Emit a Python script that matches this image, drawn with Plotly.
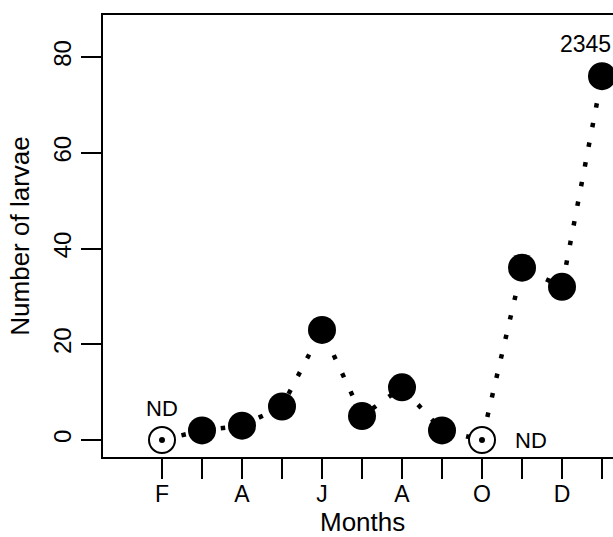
import plotly.graph_objects as go

months = ["F", "M", "A", "M", "J", "J", "A", "S", "O", "N", "D", "J"]
tick_labels = ["F", "", "A", "", "J", "", "A", "", "O", "", "D", ""]
larvae = [0, 2, 3, 7, 23, 5, 11, 2, 0, 36, 32, 76]
not_determined = [True, False, False, False, False, False, False, False, True, False, False, False]
peak_label = "2345"
x_title = "Months"
y_title = "Number of larvae"

idx = list(range(1, len(months) + 1))
fill_x = [i for i, nd in zip(idx, not_determined) if not nd]
fill_y = [v for v, nd in zip(larvae, not_determined) if not nd]
nd_x = [i for i, nd in zip(idx, not_determined) if nd]
nd_y = [v for v, nd in zip(larvae, not_determined) if nd]

FONT = "Liberation Sans, Arial, Helvetica, sans-serif"

fig = go.Figure()
fig.add_trace(go.Scatter(
    x=idx, y=larvae, mode="lines",
    line=dict(color="black", width=4.5, dash="4.5px,15.5px"),
    hoverinfo="skip", showlegend=False, cliponaxis=True))
fig.add_trace(go.Scatter(
    x=fill_x, y=fill_y, mode="markers",
    marker=dict(symbol="circle", size=28, color="black", line=dict(width=0)),
    showlegend=False))
fig.add_trace(go.Scatter(
    x=nd_x, y=nd_y, mode="markers",
    marker=dict(symbol="circle", size=26, color="white", line=dict(width=2, color="black")),
    showlegend=False))
fig.add_trace(go.Scatter(
    x=nd_x, y=nd_y, mode="markers",
    marker=dict(symbol="circle", size=6, color="black", line=dict(width=0)),
    showlegend=False))

fig.add_annotation(x=nd_x[0], y=nd_y[0], text="ND", showarrow=False, yshift=32,
                   font=dict(family=FONT, size=22, color="black"))
fig.add_annotation(x=nd_x[1], y=nd_y[1], text="ND", showarrow=False, xshift=49,
                   font=dict(family=FONT, size=22, color="black"))
fig.add_annotation(x=idx[-1], y=larvae[-1], text=peak_label, showarrow=False,
                   xshift=-17, yshift=32,
                   font=dict(family=FONT, size=23, color="black"))
# x-axis title placed under the tick labels, centred on the (clipped) plot box
fig.add_annotation(x=(idx[0] + idx[-1]) / 2 - 0.5, xref="x", y=0, yref="paper",
                   yanchor="middle", yshift=-65, text=x_title, showarrow=False,
                   font=dict(family=FONT, size=26, color="black"))

fig.update_layout(
    width=613, height=537,
    margin=dict(l=103, r=0, t=15, b=80),
    plot_bgcolor="white", paper_bgcolor="white",
    font=dict(family=FONT, color="black"),
    showlegend=False,
)
fig.update_xaxes(
    range=[-0.475, 12.275], tickmode="array", tickvals=idx, ticktext=tick_labels,
    ticks="outside", ticklen=20, tickwidth=2, tickcolor="black",
    ticklabelstandoff=-5,
    showline=True, linewidth=2, linecolor="black", mirror=True,
    showgrid=False, zeroline=False,
    tickfont=dict(family=FONT, size=23, color="black"),
)
fig.update_yaxes(
    range=[-3.55, 88.77], tickmode="array", tickvals=[0, 20, 40, 60, 80],
    tickangle=-90,
    ticks="outside", ticklen=20, tickwidth=2, tickcolor="black",
    showline=True, linewidth=2, linecolor="black", mirror=False,
    showgrid=False, zeroline=False,
    tickfont=dict(family=FONT, size=24, color="black"),
    title=dict(text=y_title, font=dict(family=FONT, size=26, color="black"), standoff=12),
)

fig.write_html("out.html")
